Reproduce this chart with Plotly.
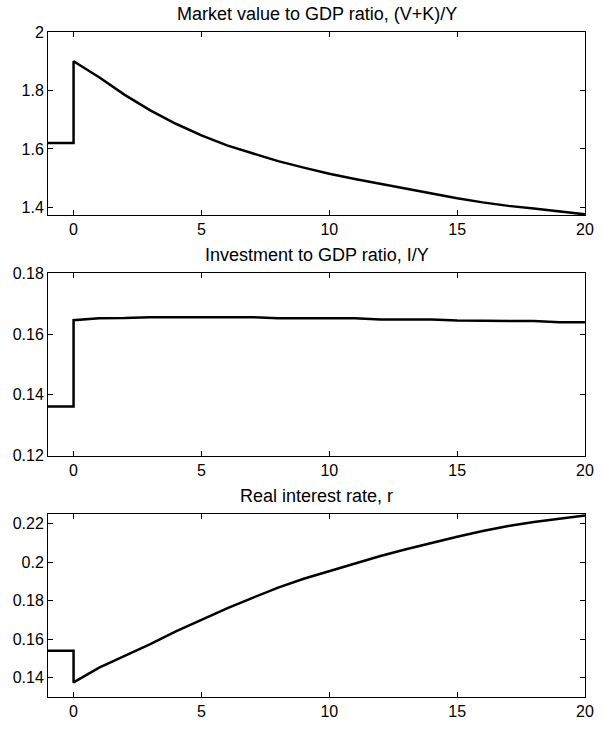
import plotly.graph_objects as go
from plotly.subplots import make_subplots

# Time axis (the pre-shock steady state is shown from -1 to 0, then the jump at 0)
periods = [-1, 0, 0, 1, 2, 3, 4, 5, 6, 7, 8, 9, 10, 11, 12, 13, 14, 15, 16, 17, 18, 19, 20]

market_value_ratio = [1.62, 1.62, 1.90, 1.845, 1.785, 1.732, 1.686, 1.646, 1.612, 1.584, 1.558,
                      1.536, 1.515, 1.497, 1.480, 1.463, 1.446, 1.431, 1.417, 1.405, 1.396, 1.386, 1.376]

investment_ratio = [0.1362, 0.1362, 0.1646, 0.1652, 0.1653, 0.1656, 0.1656, 0.1656, 0.1656, 0.1656, 0.1652,
                    0.1652, 0.1652, 0.1652, 0.1648, 0.1648, 0.1648, 0.1645, 0.1644, 0.1644, 0.1643, 0.1639, 0.1639]

real_interest_rate = [0.154, 0.154, 0.1375, 0.1452, 0.1513, 0.1574, 0.1640, 0.1702, 0.1760, 0.1815, 0.1868,
                      0.1914, 0.1954, 0.1994, 0.2033, 0.2068, 0.2102, 0.2133, 0.2163, 0.2189, 0.2210, 0.2228, 0.2243]

titles = ["Market value to GDP ratio, (V+K)/Y", "Investment to GDP ratio, I/Y", "Real interest rate, r"]
x_ticks = [0, 5, 10, 15, 20]
y_ticks = [[1.4, 1.6, 1.8, 2.0], [0.12, 0.14, 0.16, 0.18], [0.14, 0.16, 0.18, 0.2, 0.22]]
y_ticktext = [["1.4", "1.6", "1.8", "2"], ["0.12", "0.14", "0.16", "0.18"], ["0.14", "0.16", "0.18", "0.2", "0.22"]]
y_ranges = [[1.374, 2.0], [0.12, 0.18], [0.1299, 0.2253]]
series = [market_value_ratio, investment_ratio, real_interest_rate]

fig = make_subplots(rows=3, cols=1)
domains = [[0.7249, 1.0], [0.3631, 0.6369], [0.0, 0.2757]]

tick_font = dict(family="Arial, Liberation Sans, sans-serif", size=16, color="black")
title_font = dict(family="Arial, Liberation Sans, sans-serif", size=18, color="black")

for i in range(3):
    fig.add_trace(go.Scatter(x=periods, y=series[i], mode="lines",
                             line=dict(color="black", width=2.5), showlegend=False,
                             hoverinfo="skip"), row=i + 1, col=1)
    axis_common = dict(showline=True, linecolor="black", linewidth=1, mirror="ticks",
                       ticks="inside", ticklen=5, tickwidth=1, tickcolor="black",
                       showgrid=False, zeroline=False, tickfont=tick_font)
    fig.update_xaxes(range=[-1, 20], tickvals=x_ticks, ticktext=[str(v) for v in x_ticks],
                     **axis_common, row=i + 1, col=1)
    fig.update_yaxes(range=y_ranges[i], tickvals=y_ticks[i], ticktext=y_ticktext[i],
                     domain=domains[i], **axis_common, row=i + 1, col=1)
    fig.add_annotation(text=titles[i], xref="paper", yref="paper", x=0.5, y=domains[i][1],
                       xanchor="center", yanchor="bottom", yshift=6, showarrow=False, font=title_font)

fig.update_layout(width=603, height=729, margin=dict(l=48, r=9, t=32, b=27),
                  paper_bgcolor="white", plot_bgcolor="white", font=tick_font)

fig.write_html("out.html")
